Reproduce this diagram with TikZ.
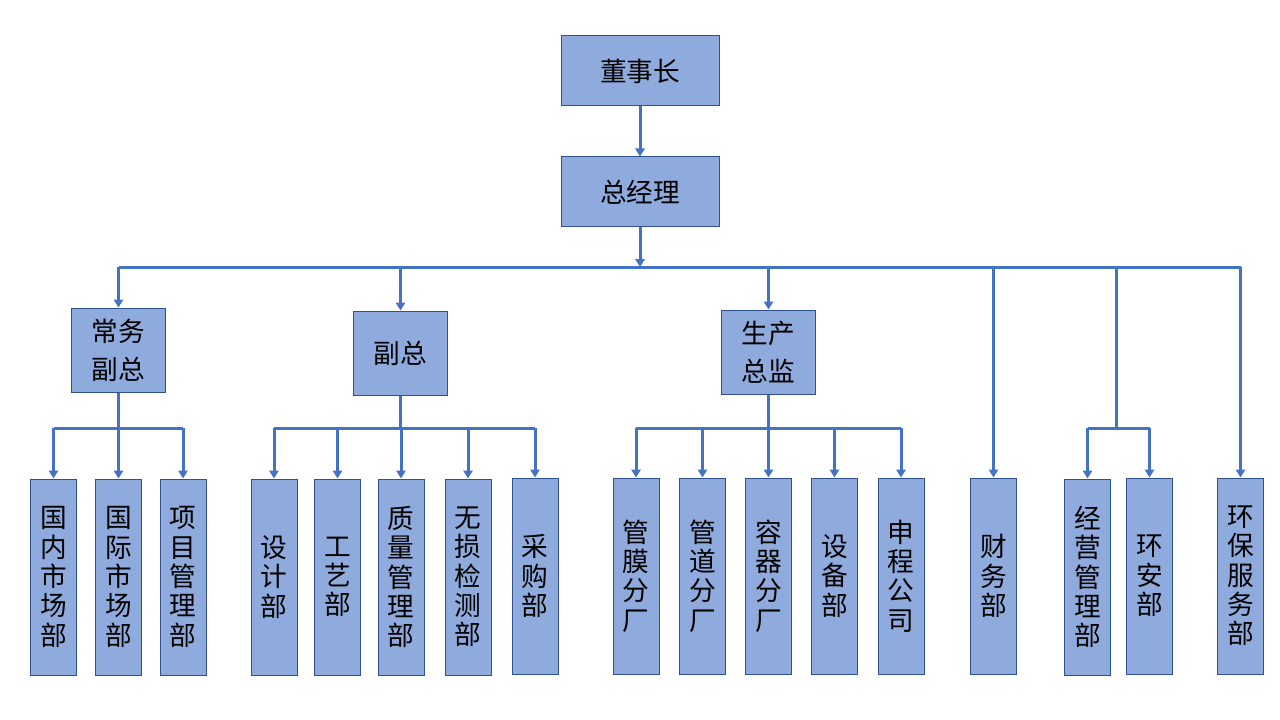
\documentclass[tikz,border=0pt]{standalone}
\usepackage{fontspec}
\setmainfont{Noto Sans CJK SC}
\usetikzlibrary{arrows.meta}
\definecolor{boxfill}{HTML}{8FAADC}
\definecolor{boxline}{HTML}{2F528F}
\definecolor{linkblue}{HTML}{4472C4}
\tikzset{
  unit/.style={draw=boxline, fill=boxfill, line width=0.75pt, inner sep=0pt,
    align=center, font=\fontsize{20}{28.5}\selectfont},
  head/.style={unit, minimum width=118.5pt, minimum height=52.5pt},
  vice/.style={unit, minimum width=70.5pt, minimum height=63pt},
  dept/.style={unit, minimum width=34.5pt, minimum height=147pt,
    font=\fontsize{20}{22}\selectfont},
  link/.style={draw=linkblue, line width=2.25pt},
  arr/.style={link, -{Triangle[width=7pt,length=6pt]}},
}
\begin{document}
\begin{tikzpicture}[x=0.75pt,y=-0.75pt]
\useasboundingbox (0,0) rectangle (1280,720);
\node[head] (chair) at (640,71) {董事长};
\node[head] (gm) at (640,192) {总经理};
\node[vice] (vp1) at (118.5,350) {常务\\副总};
\node[vice] (vp2) at (400.5,353) {副总};
\node[vice] (pd) at (768.5,352) {生产\\总监};
% \node[dept] (x) at (0,577) {};
\node[dept] (d1) at (53.5,577) {国\\内\\市\\场\\部};
\node[dept] (d2) at (118.5,577) {国\\际\\市\\场\\部};
\node[dept] (d3) at (183,577) {项\\目\\管\\理\\部};
\node[dept] (d4) at (274,577) {设\\计\\部};
\node[dept] (d5) at (337.5,577) {工\\艺\\部};
\node[dept] (d6) at (401,577) {质\\量\\管\\理\\部};
\node[dept] (d7) at (468,577) {无\\损\\检\\测\\部};
\node[dept] (d8) at (535,576) {采\\购\\部};
\node[dept] (d9) at (636,576) {管\\膜\\分\\厂};
\node[dept] (d10) at (702.5,576) {管\\道\\分\\厂};
\node[dept] (d11) at (768.5,576) {容\\器\\分\\厂};
\node[dept] (d12) at (834.5,576) {设\\备\\部};
\node[dept] (d13) at (901,576) {申\\程\\公\\司};
\node[dept] (fin) at (993.5,576) {财\\务\\部};
\node[dept] (op) at (1087.5,577) {经\\营\\管\\理\\部};
\node[dept] (sa) at (1149.5,576) {环\\安\\部};
\node[dept] (eps) at (1240.5,576) {环\\保\\服\\务\\部};
\coordinate (bus) at (640,267);
\coordinate (j1) at (118.5,428);
\coordinate (j2) at (400.5,428);
\coordinate (j3) at (768.5,428);
\coordinate (j4) at (1116.5,428);
\draw[arr] (chair) -- (gm);
\draw[arr] (gm) -- (bus);
\draw[link] (bus -| vp1.north) -- (bus -| eps.north);
\foreach \n in {vp1,vp2,pd,fin,eps} \draw[arr] (bus -| \n.north) -- (\n.north);
\draw[link] (bus -| j4) -- (j4);
\draw[link] (vp1) -- (j1);
\draw[link] (vp2) -- (j2);
\draw[link] (pd) -- (j3);
\draw[link] (j1 -| d1.north) -- (j1 -| d3.north);
\draw[link] (j2 -| d4.north) -- (j2 -| d8.north);
\draw[link] (j3 -| d9.north) -- (j3 -| d13.north);
\draw[link] (j4 -| op.north) -- (j4 -| sa.north);
\foreach \n in {d1,d2,d3} \draw[arr] (j1 -| \n.north) -- (\n.north);
\foreach \n in {d4,d5,d6,d7,d8} \draw[arr] (j2 -| \n.north) -- (\n.north);
\foreach \n in {d9,d10,d11,d12,d13} \draw[arr] (j3 -| \n.north) -- (\n.north);
\foreach \n in {op,sa} \draw[arr] (j4 -| \n.north) -- (\n.north);
\end{tikzpicture}
\end{document}
